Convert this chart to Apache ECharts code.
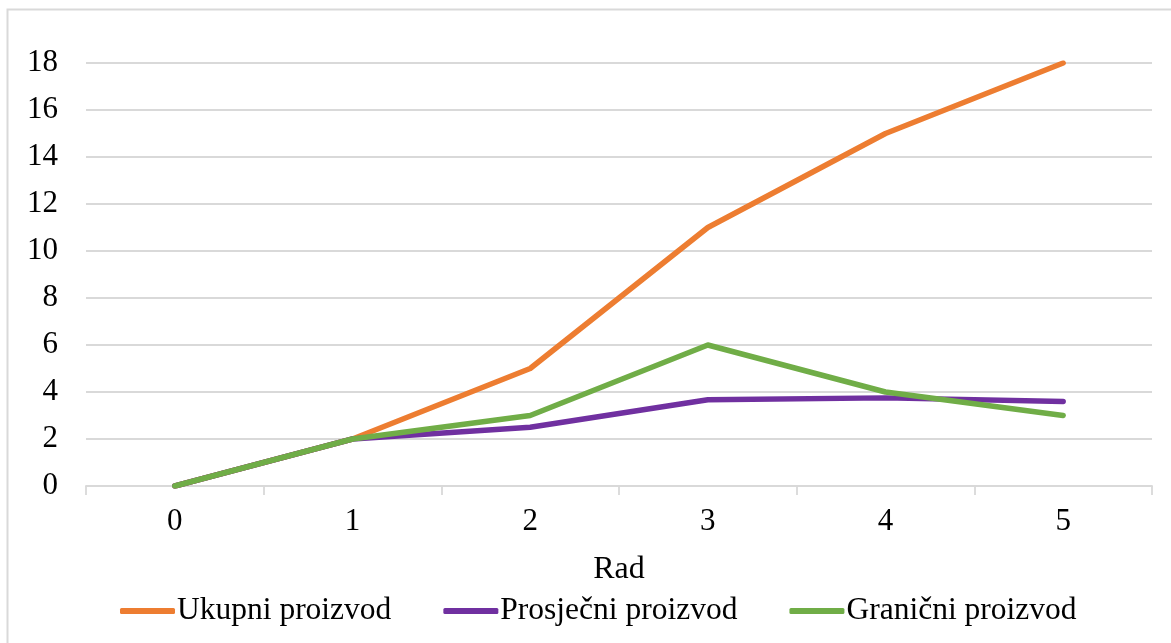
<!DOCTYPE html>
<html>
<head>
<meta charset="utf-8">
<script src="https://cdn.jsdelivr.net/npm/echarts@6/dist/echarts.min.js"></script>
<style>
html,body{margin:0;padding:0;background:#fff;}
#chart{width:1171px;height:643px;}
</style>
</head>
<body>
<div id="chart"></div>
<script>
const categories = ['0', '1', '2', '3', '4', '5'];
const ukupni = [0, 2, 5, 11, 15, 18];
const prosjecni = [0, 2, 2.5, 3.67, 3.75, 3.6];
const granicni = [0, 2, 3, 6, 4, 3];
const seriesNames = ['Ukupni proizvod', 'Prosječni proizvod', 'Granični proizvod'];
const xAxisName = 'Rad';

const font = 'Liberation Serif, Times New Roman, serif';
const chart = echarts.init(document.getElementById('chart'));
function lineSeries(name, data, color) {
  return {
    name: name, type: 'line', data: data, symbol: 'none', showSymbol: false,
    lineStyle: { color: color, width: 5.5, cap: 'round', join: 'round' },
    itemStyle: { color: color },
    animation: false
  };
}
chart.setOption({
  animation: false,
  graphic: [{
    type: 'rect', silent: true, z: -1,
    shape: { x: 7.5, y: 9.5, width: 1200, height: 700 },
    style: { fill: 'none', stroke: '#D9D9D9', lineWidth: 2 }
  }],
  grid: { left: 86, right: 19, top: 63, bottom: 157 },
  legend: {
    data: seriesNames,
    left: 115, top: 590,
    icon: 'roundRect', itemWidth: 55, itemHeight: 6, itemGap: 52,
    textStyle: { fontFamily: font, fontSize: 31.5, color: '#000', padding: [0, 0, 0, -3] }
  },
  xAxis: {
    type: 'category', data: categories, boundaryGap: true,
    name: xAxisName, nameLocation: 'middle', nameGap: 68,
    nameTextStyle: { fontFamily: font, fontSize: 32, color: '#000' },
    axisLine: { lineStyle: { color: '#D9D9D9', width: 1.8 } },
    axisTick: { show: true, length: 9, lineStyle: { color: '#D9D9D9', width: 1.8 } },
    axisLabel: { fontFamily: font, fontSize: 31, color: '#000', margin: 20 }
  },
  yAxis: {
    type: 'value', min: 0, max: 18, interval: 2,
    axisLine: { show: false }, axisTick: { show: false },
    splitLine: { lineStyle: { color: '#D9D9D9', width: 1.8 } },
    axisLabel: { fontFamily: font, fontSize: 31, color: '#000', margin: 28 }
  },
  series: [
    lineSeries(seriesNames[0], ukupni, '#ED7D31'),
    lineSeries(seriesNames[1], prosjecni, '#7030A0'),
    lineSeries(seriesNames[2], granicni, '#70AD47')
  ]
});
</script>
</body>
</html>
